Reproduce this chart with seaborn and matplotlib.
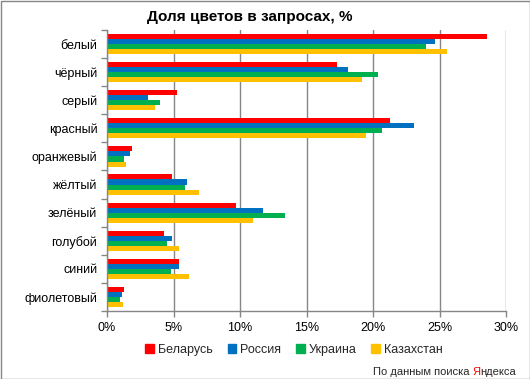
import pandas as pd
import matplotlib.pyplot as plt
import matplotlib.patches as mpatches
from matplotlib.ticker import FixedLocator, PercentFormatter
import seaborn as sns

# данные (доля цветов в запросах, %)
colors_ru = ['белый', 'чёрный', 'серый', 'красный', 'оранжевый',
             'жёлтый', 'зелёный', 'голубой', 'синий', 'фиолетовый']
countries = ['Беларусь', 'Россия', 'Украина', 'Казахстан']
belarus = [28.6, 17.3, 5.3, 21.3, 1.9, 4.9, 9.7, 4.25, 5.4, 1.3]
russia = [24.65, 18.1, 3.1, 23.1, 1.7, 6.05, 11.7, 4.9, 5.4, 1.15]
ukraine = [24.0, 20.35, 4.0, 20.65, 1.3, 5.9, 13.4, 4.5, 4.8, 1.0]
kazakhstan = [25.55, 19.2, 3.6, 19.5, 1.4, 6.9, 11.0, 5.4, 6.2, 1.2]
palette = ['#FF0000', '#0070C0', '#00B050', '#FFC000']
grid_c = '#868686'

rows = []
for country, vals in zip(countries, [belarus, russia, ukraine, kazakhstan]):
    for c, v in zip(colors_ru, vals):
        rows.append({'color': c, 'country': country, 'value': v})
df = pd.DataFrame(rows)

sns.set_style('white')
plt.rcParams['font.family'] = ['Liberation Sans', 'DejaVu Sans']

fig = plt.figure(figsize=(5.3, 3.79), dpi=100)
ax = fig.add_axes([107 / 530, 1 - 311 / 379, 399 / 530, 281 / 379])

sns.barplot(data=df, y='color', x='value', hue='country', palette=palette,
            order=colors_ru, hue_order=countries, width=0.72, gap=0,
            orient='h', ax=ax, legend=False, saturation=1, linewidth=0,
            edgecolor='none')

ax.set_xlim(0, 30)
ax.set_ylim(len(colors_ru) - 0.5, -0.5)
ax.xaxis.set_major_locator(FixedLocator([0, 5, 10, 15, 20, 25, 30]))
ax.xaxis.set_major_formatter(PercentFormatter(decimals=0))
ax.set_xlabel('')
ax.set_ylabel('')
ax.grid(axis='x', color=grid_c, linewidth=1)
ax.set_axisbelow(True)

for s in ['top', 'right']:
    ax.spines[s].set_visible(False)
for s in ['left', 'bottom']:
    ax.spines[s].set_color(grid_c)
    ax.spines[s].set_linewidth(1)

# засечки между категориями, как в Excel
ax.yaxis.set_minor_locator(FixedLocator([i - 0.5 for i in range(len(colors_ru) + 1)]))
ax.tick_params(axis='y', which='major', length=0, labelsize=9, pad=7, labelcolor='black')
ax.tick_params(axis='y', which='minor', length=4, color=grid_c, width=1, left=True)
ax.tick_params(axis='x', which='major', length=4, color=grid_c, width=1,
               labelsize=9, pad=4, bottom=True, labelcolor='black')

fig.text(250 / 530, 1 - 17 / 379, 'Доля цветов в запросах, %', ha='center',
         va='center', fontsize=11, fontweight='bold', color='black')

handles = [mpatches.Patch(color=p, label=c) for p, c in zip(palette, countries)]
fig.legend(handles=handles, loc='center', bbox_to_anchor=(294 / 530, 1 - 350 / 379),
           ncol=4, frameon=False, fontsize=9, handlelength=0.7, handleheight=0.7,
           handletextpad=0.3, columnspacing=1.2)

# подпись с красной «Я»
fig.canvas.draw()
r = fig.canvas.get_renderer()
y_src = 1 - 372 / 379
t1 = fig.text(373 / 530, y_src, 'По данным поиска ', ha='left', va='center', fontsize=8)
bb = t1.get_window_extent(r)
t2 = fig.text(bb.x1 / 530, y_src, 'Я', ha='left', va='center', fontsize=8, color='#FF0000')
bb = t2.get_window_extent(r)
fig.text(bb.x1 / 530, y_src, 'ндекса', ha='left', va='center', fontsize=8)

fig.patches.append(mpatches.Rectangle((0.5 / 530, 0.5 / 379), 529 / 530, 378 / 379,
                                      transform=fig.transFigure, fill=False,
                                      edgecolor=grid_c, linewidth=1))

fig.savefig('out.png', dpi=100)
